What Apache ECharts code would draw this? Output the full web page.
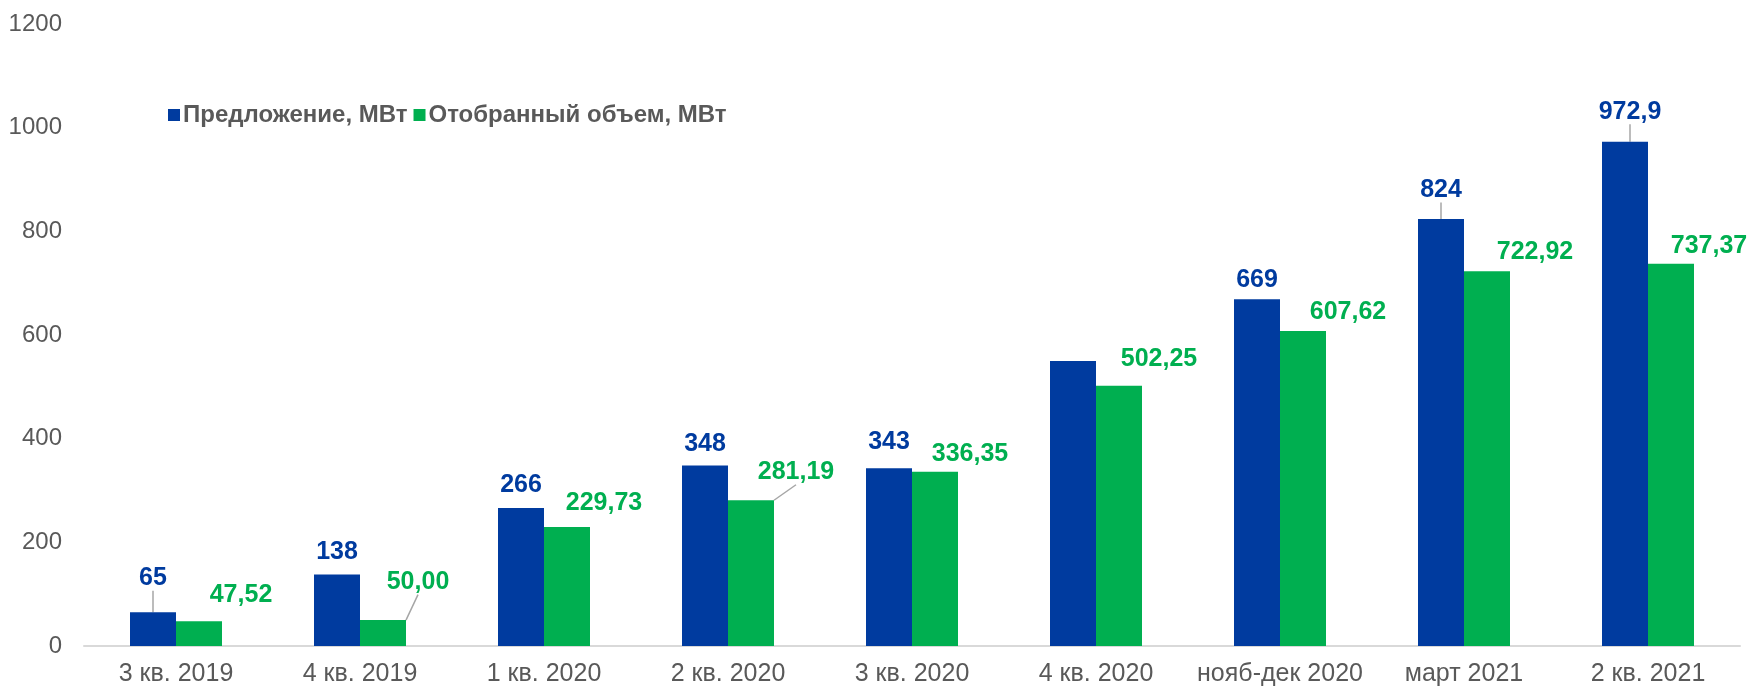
<!DOCTYPE html>
<html>
<head>
<meta charset="utf-8">
<script src="https://cdn.jsdelivr.net/npm/echarts@6/dist/echarts.min.js"></script>
<style>
  html, body { margin: 0; padding: 0; background: #fff; }
  #chart { width: 1748px; height: 687px; }
</style>
</head>
<body>
<div id="chart"></div>
<script>
const categories = ['3 кв. 2019', '4 кв. 2019', '1 кв. 2020', '2 кв. 2020', '3 кв. 2020', '4 кв. 2020', 'нояб-дек 2020', 'март 2021', '2 кв. 2021'];
const offerValues = [65, 138, 266, 348, 343, 550, 669, 824, 972.9];
const selectedValues = [47.52, 50.0, 229.73, 281.19, 336.35, 502.25, 607.62, 722.92, 737.37];
const yTicks = [0, 200, 400, 600, 800, 1000, 1200];

// how Excel had the labels placed: [dx, dy, leader line]
const offerLabelPos = [[0, -18, true], [0, -6], [0, -7], [0, -6], [0, -10], null, [0, -3], [0, -13, true], [5, -14, true]];
const selectedLabelPos = [[42, -10], [35, -22, true], [37, -8], [45, -12, true], [35, -2], [40, -11], [45, -3], [48, -3], [38, -2]];

const BLUE = '#003B9F';
const GREEN = '#00AF50';
const GREY = '#595959';
const FONT = '"Liberation Sans", Arial, sans-serif';

const fmt = v => {
  if (Number.isInteger(v)) return String(v);
  return String(v).replace('.', ',');
};
const fmt2 = v => v.toFixed(2).replace('.', ',');

function buildData(values, pos, formatter) {
  return values.map((v, i) => ({
    value: v,
    label: { show: pos[i] !== null, formatter: () => formatter(v) },
    labelLine: { show: !!(pos[i] && pos[i][2]) },
  }));
}

function layoutFor(pos) {
  return params => {
    const p = pos[params.dataIndex];
    if (!p) return {};
    return { dx: p[0], dy: p[1] };
  };
}

const chart = echarts.init(document.getElementById('chart'));

const labelBase = {
  position: 'top',
  distance: 5,
  fontSize: 25,
  fontWeight: 'bold',
  lineHeight: 22,
  fontFamily: FONT,
};

const option = {
  animation: false,
  textStyle: { fontFamily: FONT },
  legend: {
    left: 163,
    top: 98,
    itemWidth: 12,
    itemHeight: 12,
    itemGap: 6,
    icon: 'rect',
    textStyle: { color: GREY, fontSize: 24, fontWeight: 'bold', fontFamily: FONT, padding: [0, 0, 0, -2] },
  },
  grid: { left: 84, right: 8, top: 24, bottom: 41 },
  xAxis: {
    type: 'category',
    data: categories,
    axisLine: { lineStyle: { color: '#D9D9D9', width: 2 } },
    axisTick: { show: false },
    axisLabel: { color: GREY, fontSize: 25, margin: 16, interval: 0, fontFamily: FONT },
  },
  yAxis: {
    type: 'value',
    min: yTicks[0],
    max: yTicks[yTicks.length - 1],
    interval: yTicks[1] - yTicks[0],
    axisLine: { show: false },
    axisTick: { show: false },
    splitLine: { show: false },
    axisLabel: { color: GREY, fontSize: 24, margin: 22, fontFamily: FONT, formatter: v => String(v) },
  },
  series: [
    {
      name: 'Предложение, МВт',
      type: 'bar',
      barGap: '0%',
      barCategoryGap: '50%',
      itemStyle: { color: BLUE },
      data: buildData(offerValues, offerLabelPos, fmt),
      label: Object.assign({ color: BLUE }, labelBase),
      labelLine: { lineStyle: { color: '#A6A6A6', width: 1.5 } },
      labelLayout: layoutFor(offerLabelPos),
    },
    {
      name: 'Отобранный объем, МВт',
      type: 'bar',
      barGap: '0%',
      barCategoryGap: '50%',
      itemStyle: { color: GREEN },
      data: buildData(selectedValues, selectedLabelPos, fmt2),
      label: Object.assign({ color: GREEN }, labelBase),
      labelLine: { lineStyle: { color: '#A6A6A6', width: 1.5 } },
      labelLayout: layoutFor(selectedLabelPos),
    },
  ],
};

chart.setOption(option);
</script>
</body>
</html>
